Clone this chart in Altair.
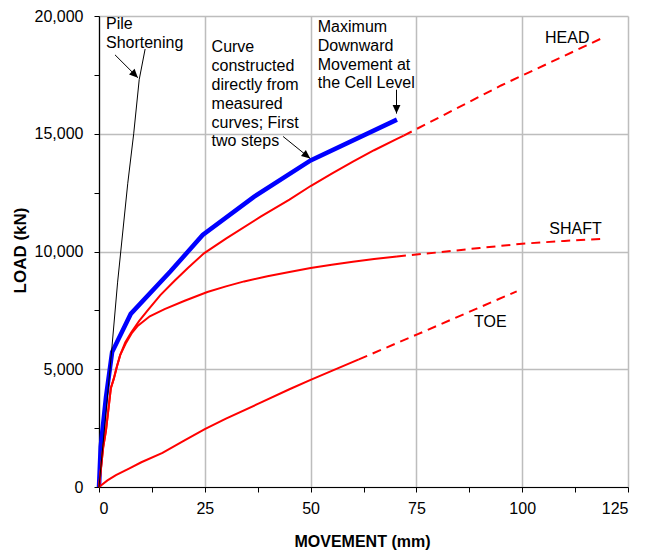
import altair as alt
import pandas as pd

# ---------------- data ----------------
# Pile shortening (elastic compression)
pile_x = [0, 2.6, 4.4, 6.8, 8.2, 9.5, 10.9]
pile_y = [0, 5000, 8700, 12900, 15000, 17300, 18600]

# Equivalent head curve constructed directly from measured curves (blue)
blue_x = [0, 0.4, 1.65, 3.1, 7.5, 16.9, 24.5, 36.6, 50, 70.4]
blue_y = [0, 1700, 3810, 5730, 7350, 9160, 10700, 12320, 13870, 15600]

# HEAD (measured part, then extrapolated)
head_x = [0, 1.0, 1.65, 2.8, 3.5, 4.2, 5.0, 6.2, 7.6, 9.5, 11.5, 14.5, 17.8, 21, 24.8, 30, 38.2, 45, 50, 55, 60, 65, 70.4, 72]
head_y = [0, 1700, 2400, 4200, 4600, 5100, 5600, 6140, 6560, 7050, 7500, 8150, 8750, 9300, 9920, 10550, 11480, 12200, 12780, 13310, 13820, 14300, 14780, 14920]
head_ext_x = [72, 95, 119]
head_ext_y = [14920, 17050, 19070]

# SHAFT
shaft_x = [0, 1.0, 1.65, 2.8, 3.5, 4.2, 5.0, 6.45, 7.8, 9.2, 12, 15.5, 20.25, 25.6, 30, 34.3, 39.8, 45, 50, 55, 60, 65, 70.4]
shaft_y = [0, 1700, 2400, 4200, 4600, 5100, 5600, 6140, 6550, 6850, 7250, 7556, 7907, 8280, 8520, 8730, 8950, 9130, 9300, 9440, 9560, 9680, 9790]
shaft_ext_x = [70.4, 80, 90, 100, 110, 119]
shaft_ext_y = [9790, 9960, 10150, 10330, 10450, 10540]

# TOE
toe_x = [0, 2, 4, 7.2, 10, 15, 20, 25, 30, 37.8, 45, 50, 55, 61.4]
toe_y = [0, 280, 506, 790, 1050, 1450, 1960, 2460, 2900, 3550, 4150, 4550, 4930, 5420]
toe_ext_x = [61.4, 75.2, 98.7]
toe_ext_y = [5420, 6480, 8310]

# annotations
note_text = ["Pile\nShortening",
             "Curve\nconstructed\ndirectly from\nmeasured\ncurves; First\ntwo steps",
             "Maximum\nDownward\nMovement at\nthe Cell Level",
             "HEAD", "SHAFT", "TOE"]
note_x = [1.65, 26.6, 51.7, 105.4, 106.4, 88.6]
note_y = [19450, 18457, 19323, 18871, 10727, 6808]

arrow_x = [3.78, 43.5, 70.3]
arrow_y = [18351, 14884, 16871]
arrow_x2 = [9.2, 49.9, 70.3]
arrow_y2 = [17378, 13953, 15856]
arrow_angle = [135, 129, 180]

x_ticks = [i * 12.5 for i in range(11)]
y_ticks = [i * 2500 for i in range(9)]

FONT = "Liberation Sans"

# ---------------- build tables ----------------
def seg(name, xs, ys):
    return pd.DataFrame({"x": xs, "load": ys, "curve": name, "i": range(len(xs))})

solid_red = pd.concat([seg("HEAD", head_x, head_y),
                       seg("SHAFT", shaft_x, shaft_y),
                       seg("TOE", toe_x, toe_y)])
dash_red = pd.concat([seg("HEAD", head_ext_x, head_ext_y),
                      seg("SHAFT", shaft_ext_x, shaft_ext_y),
                      seg("TOE", toe_ext_x, toe_ext_y)])
pile = seg("PILE", pile_x, pile_y)
blue = seg("BLUE", blue_x, blue_y)

notes = pd.DataFrame({"x": note_x, "load": note_y, "text": note_text})
arrows = pd.DataFrame({"x": arrow_x, "load": arrow_y, "x2": arrow_x2,
                       "load2": arrow_y2, "angle": arrow_angle})

xscale = alt.Scale(domain=[0, 125], nice=False, zero=False)
yscale = alt.Scale(domain=[0, 20000], nice=False)

xaxis = alt.Axis(
    values=x_ticks,
    labelExpr="datum.value % 25 === 0 ? format(datum.value, 'd') : ''",
    title="MOVEMENT  (mm)",
    grid=True,
    gridOpacity={"condition": {"test": "datum.value % 25 === 0", "value": 1}, "value": 0},
    tickSize=5, labelPadding=8,
    titleX=263, titleY=59, titleBaseline="alphabetic",
)
yaxis = alt.Axis(
    values=y_ticks,
    labelExpr="datum.value % 5000 === 0 ? format(datum.value, ',') : ''",
    title="LOAD  (kN)",
    grid=True,
    gridOpacity={"condition": {"test": "datum.value % 5000 === 0", "value": 1}, "value": 0},
    tickSize=5, labelPadding=11,
    titleX=-70, titleY=234, titleFontSize=17,
)

X = alt.X("x:Q", scale=xscale, axis=xaxis)
Y = alt.Y("load:Q", scale=yscale, axis=yaxis)

base_axes = alt.Chart(blue).mark_line(color="#0000ff", strokeWidth=4.5).encode(
    x=X, y=Y, order="i:Q")

red_solid = alt.Chart(solid_red).mark_line(color="#ff0000", strokeWidth=2).encode(
    x="x:Q", y="load:Q", detail="curve:N", order="i:Q")
red_dash = alt.Chart(dash_red).mark_line(color="#ff0000", strokeWidth=2,
                                         strokeDash=[9, 6]).encode(
    x="x:Q", y="load:Q", detail="curve:N", order="i:Q")
pile_line = alt.Chart(pile).mark_line(color="#000000", strokeWidth=1).encode(
    x="x:Q", y="load:Q", order="i:Q")

text_layer = alt.Chart(notes).mark_text(
    align="left", baseline="alphabetic", font=FONT, fontSize=16,
    lineBreak="\n", lineHeight=18.8, color="#000000").encode(
    x="x:Q", y="load:Q", text="text:N")

arrow_rule = alt.Chart(arrows).mark_rule(color="#000000", strokeWidth=1).encode(
    x="x:Q", y="load:Q", x2="x2:Q", y2="load2:Q")
arrow_head = alt.Chart(arrows).mark_point(
    shape="M0,0L-0.45,1L0.45,1Z", filled=True, size=300, opacity=1,
    color="#000000", strokeWidth=0).encode(
    x="x2:Q", y="load2:Q", angle=alt.Angle("angle:Q", scale=None))

chart = alt.layer(
    base_axes, red_solid, red_dash, pile_line, text_layer, arrow_rule, arrow_head
).properties(
    width=529, height=471,
    autosize=alt.AutoSizeParams(type="none"),
    padding={"left": 91, "top": 8, "right": 10, "bottom": 65},
    background="white",
).configure_view(stroke=None).configure_axis(
    labelFont=FONT, titleFont=FONT, labelFontSize=16, titleFontSize=16,
    labelColor="#000000", titleColor="#000000", titleFontWeight="bold",
    domainColor="#000000", domainWidth=1.2, tickColor="#000000", tickWidth=1,
    gridColor="#bdbdbd", gridWidth=1.5,
)

chart.save("out.html", embed_options={"renderer": "svg", "actions": False})
